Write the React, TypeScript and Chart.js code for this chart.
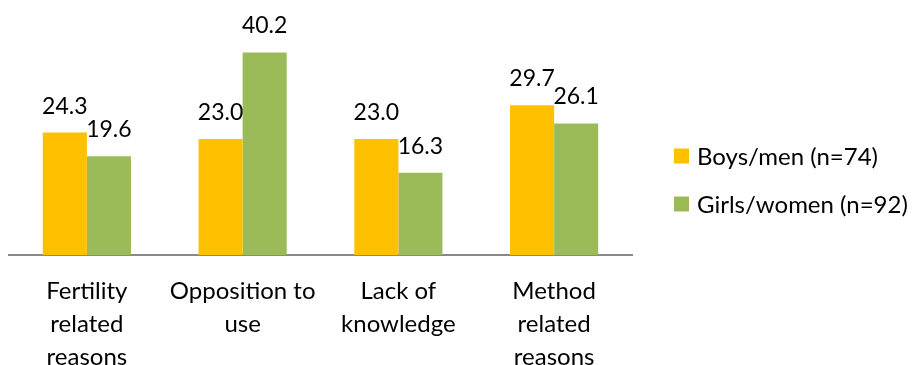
import React, { useEffect, useRef } from "react";
import { Chart, registerables } from "chart.js";

Chart.register(...registerables);

const categories: string[][] = [
  ["Fertility", "related", "reasons"],
  ["Opposition to", "use"],
  ["Lack of", "knowledge"],
  ["Method", "related", "reasons"],
];
const boysValues = [24.3, 23.0, 23.0, 29.7];
const girlsValues = [19.6, 40.2, 16.3, 26.1];
const seriesNames = ["Boys/men (n=74)", "Girls/women (n=92)"];
const seriesColors = ["#FFC000", "#9BBB59"];

const FONT = "Lato";

// Draws each bar's value centred above it.
const valueLabels = {
  id: "valueLabels",
  afterDatasetsDraw(chart: any) {
    const ctx = chart.ctx;
    ctx.save();
    ctx.font = `23px ${FONT}`;
    ctx.fillStyle = "#000";
    ctx.textAlign = "center";
    ctx.textBaseline = "alphabetic";
    chart.data.datasets.forEach((ds: any, i: number) => {
      const meta = chart.getDatasetMeta(i);
      meta.data.forEach((bar: any, j: number) => {
        ctx.fillText(Number(ds.data[j]).toFixed(1), bar.x, bar.y - 19);
      });
    });
    ctx.restore();
  },
};

// Legend to the right of the plot, squares followed by series names.
const sideLegend = {
  id: "sideLegend",
  afterDraw(chart: any) {
    const ctx = chart.ctx;
    ctx.save();
    ctx.font = `24px ${FONT}`;
    ctx.textBaseline = "middle";
    ctx.textAlign = "left";
    const x = 674;
    const centers = [156, 204];
    chart.data.datasets.forEach((ds: any, i: number) => {
      ctx.fillStyle = ds.backgroundColor;
      ctx.fillRect(x, centers[i] - 7.5, 15, 15);
      ctx.fillStyle = "#000";
      ctx.fillText(ds.label, x + 23, centers[i] + 1);
    });
    ctx.restore();
  },
};

export default function App() {
  const ref = useRef<HTMLCanvasElement | null>(null);

  useEffect(() => {
    document.body.style.margin = "0";
    const canvas = ref.current;
    if (!canvas) return;
    const chart = new Chart(canvas, {
      type: "bar",
      data: {
        labels: categories,
        datasets: [
          { label: seriesNames[0], data: boysValues, backgroundColor: seriesColors[0] },
          { label: seriesNames[1], data: girlsValues, backgroundColor: seriesColors[1] },
        ],
      },
      options: {
        responsive: false,
        animation: false,
        layout: { padding: { left: 9, right: 282, top: 3, bottom: 0 } },
        datasets: { bar: { categoryPercentage: 0.566, barPercentage: 1 } },
        plugins: { legend: { display: false }, tooltip: { enabled: false } },
        scales: {
          x: {
            grid: { display: false, drawTicks: false },
            border: { display: true, color: "#898989", width: 2 },
            ticks: {
              color: "#000",
              padding: 20,
              maxRotation: 0,
              font: { family: FONT, size: 24, lineHeight: 1.375 },
            },
            afterFit(scale: any) {
              scale.height = 110;
            },
          },
          y: {
            display: false,
            min: 0,
            max: 50,
          },
        },
      },
      plugins: [valueLabels, sideLegend],
    });
    return () => chart.destroy();
  }, []);

  return <canvas ref={ref} width={914} height={365} style={{ display: "block" }} />;
}
